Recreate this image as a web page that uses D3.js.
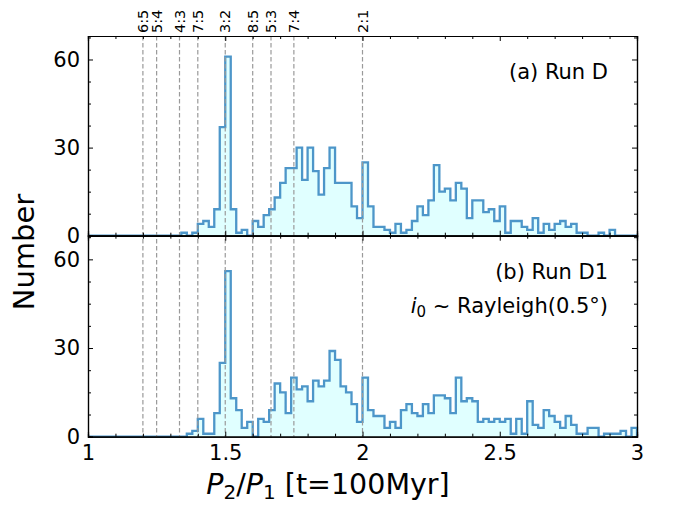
<!DOCTYPE html>
<html lang="en">
<head>
    <meta charset="UTF-8"/>
    <title>Period ratio histogram</title>
    <script src="https://d3js.org/d3.v7.min.js"></script>
    <style>
        body { margin: 0; background: #fff; }
        text { font-family: "DejaVu Sans", sans-serif; }
    </style>
</head>
<body>
<div id="chart"></div>
<script>
    // counts per bin, bins of 0.02 from 1.00 to 3.00
    var binStart = 1.0;
    var binWidth = 0.02;

    var countsRunD = [
        0, 0, 0, 0, 0, 0, 0, 0, 0, 0, 0, 0, 0, 0, 0, 0, 0, 1, 0, 1,
        4, 5, 3, 9, 37, 61, 9, 1, 2, 0, 5, 3, 7, 9, 13, 18, 23, 23, 30, 19,
        30, 22, 14, 23, 30, 18, 18, 18, 10, 6, 25, 10, 3, 3, 2, 1, 4, 1, 2, 5,
        10, 7, 12, 24, 15, 16, 12, 18, 16, 6, 12, 12, 8, 9, 5, 10, 1, 5, 5, 3,
        2, 6, 1, 4, 2, 4, 5, 3, 4, 1, 1, 0, 0, 1, 0, 2, 0, 0, 0, 0
    ];

    var countsRunD1 = [
        0, 0, 0, 0, 0, 0, 0, 0, 0, 0, 0, 0, 0, 0, 0, 0, 0, 0, 1, 2,
        6, 1, 1, 8, 25, 56, 13, 9, 3, 5, 0, 6, 5, 9, 18, 15, 8, 20, 16, 17,
        12, 19, 17, 19, 29, 26, 17, 15, 11, 5, 20, 9, 7, 7, 3, 5, 3, 9, 11, 8,
        7, 11, 8, 14, 14, 13, 8, 20, 12, 13, 12, 5, 6, 5, 6, 5, 6, 1, 6, 1,
        12, 4, 3, 9, 7, 5, 3, 7, 4, 1, 1, 3, 3, 0, 1, 1, 1, 2, 0, 3
    ];

    var resonanceNames = ["6:5", "5:4", "4:3", "7:5", "3:2", "8:5", "5:3", "7:4", "2:1"];
    var resonanceValues = [6 / 5, 5 / 4, 4 / 3, 7 / 5, 3 / 2, 8 / 5, 5 / 3, 7 / 4, 2 / 1];

    var xTickValues = [1, 1.5, 2, 2.5, 3];
    var xMinorValues = [1.1, 1.2, 1.3, 1.4, 1.6, 1.7, 1.8, 1.9, 2.1, 2.2, 2.3, 2.4, 2.6, 2.7, 2.8, 2.9];
    var yTickValues = [0, 30, 60];
    var yMinorValues = [7.5, 15, 22.5, 37.5, 45, 52.5, 67.5];

    var width = 673;
    var height = 506;
    // plot box (window.top is reserved, so use own names)
    var plotLeft = 88, plotRight = 637, plotTop = 36, plotMid = 235.7, plotBottom = 436.7;

    var svg = d3.select("#chart").append("svg").attr("width", width).attr("height", height);

    var xScale = d3.scaleLinear().domain([1, 3]).range([plotLeft, plotRight]);

    var panels = [
        {counts: countsRunD, y0: plotMid, y1: plotTop},
        {counts: countsRunD1, y0: plotBottom, y1: plotMid}
    ];

    panels.forEach(function (p) {
        var yScale = d3.scaleLinear().domain([0, 68]).range([p.y0, p.y1]);
        p.yScale = yScale;

        // points of the step outline
        var pts = p.counts.map(function (c, i) {
            return [binStart + i * binWidth, c];
        });
        pts.push([binStart + p.counts.length * binWidth, p.counts[p.counts.length - 1]]);

        var area = d3.area()
            .x(function (d) { return xScale(d[0]); })
            .y0(yScale(0))
            .y1(function (d) { return yScale(d[1]); })
            .curve(d3.curveStepAfter);

        svg.append("path").datum(pts).attr("d", area).attr("fill", "#e0ffff");

        var line = d3.line()
            .x(function (d) { return xScale(d[0]); })
            .y(function (d) { return yScale(d[1]); })
            .curve(d3.curveStepAfter);

        var outline = [[1, 0]].concat(pts).concat([[3, 0]]);
        svg.append("path").datum(outline).attr("d", line)
            .attr("fill", "none")
            .attr("stroke", "#4d96c9")
            .attr("stroke-width", 2.3)
            .attr("stroke-linejoin", "miter");
    });

    // resonance lines over both panels
    svg.selectAll(".res").data(resonanceValues).enter().append("line")
        .attr("x1", function (d) { return xScale(d); })
        .attr("x2", function (d) { return xScale(d); })
        .attr("y1", plotTop)
        .attr("y2", plotBottom)
        .attr("stroke", "#9a9a9a")
        .attr("stroke-width", 1.2)
        .attr("stroke-dasharray", "4.5,2.5");

    // resonance labels on top, rotated
    svg.selectAll(".reslabel").data(resonanceValues).enter().append("text")
        .attr("transform", function (d) { return "translate(" + xScale(d) + "," + (plotTop - 3) + ") rotate(-90)"; })
        .attr("dy", "0.36em")
        .attr("font-size", 14.5)
        .text(function (d, i) { return resonanceNames[i]; });

    // axes, ticks point inward on all sides
    panels.forEach(function (p, k) {
        var g = svg.append("g");
        var yScale = p.yScale;

        var axisB = d3.axisBottom(xScale).tickValues(xTickValues).tickSize(-5).tickPadding(8)
            .tickFormat(k === 1 ? d3.format("") : "");
        g.append("g").attr("transform", "translate(0," + p.y0 + ")").call(axisB);
        g.append("g").attr("transform", "translate(0," + p.y0 + ")")
            .call(d3.axisBottom(xScale).tickValues(xMinorValues).tickSize(-3).tickFormat(""));

        var axisT = d3.axisTop(xScale).tickValues(xTickValues).tickSize(-5).tickFormat("");
        g.append("g").attr("transform", "translate(0," + p.y1 + ")").call(axisT);
        g.append("g").attr("transform", "translate(0," + p.y1 + ")")
            .call(d3.axisTop(xScale).tickValues(xMinorValues).tickSize(-3).tickFormat(""));

        g.append("g").attr("transform", "translate(" + plotLeft + ",0)")
            .call(d3.axisLeft(yScale).tickValues(yTickValues).tickSize(-5).tickPadding(8));
        g.append("g").attr("transform", "translate(" + plotLeft + ",0)")
            .call(d3.axisLeft(yScale).tickValues(yMinorValues).tickSize(-3).tickFormat(""));

        g.append("g").attr("transform", "translate(" + plotRight + ",0)")
            .call(d3.axisRight(yScale).tickValues(yTickValues).tickSize(-5).tickFormat(""));
        g.append("g").attr("transform", "translate(" + plotRight + ",0)")
            .call(d3.axisRight(yScale).tickValues(yMinorValues).tickSize(-3).tickFormat(""));

        g.selectAll(".domain").attr("stroke", "#000").attr("stroke-width", 1.2);
        g.selectAll(".tick line").attr("stroke", "#000").attr("stroke-width", 1);
        g.selectAll(".tick text").attr("font-size", 21).attr("fill", "#000")
            .attr("font-family", "DejaVu Sans, sans-serif");
    });

    // panel annotations
    svg.append("text").attr("x", 608).attr("y", 79).attr("text-anchor", "end")
        .attr("font-size", 21).text("(a) Run D");
    svg.append("text").attr("x", 608).attr("y", 279).attr("text-anchor", "end")
        .attr("font-size", 21).text("(b) Run D1");

    var t = svg.append("text").attr("x", 608).attr("y", 313).attr("text-anchor", "end").attr("font-size", 21);
    t.append("tspan").attr("font-style", "italic").text("i");
    t.append("tspan").attr("font-size", 15).attr("dy", 4).text("0");
    t.append("tspan").attr("dy", -4).text(" ~ Rayleigh(0.5°)");

    // axis labels
    svg.append("text")
        .attr("transform", "translate(34,252) rotate(-90)")
        .attr("text-anchor", "middle")
        .attr("font-size", 29)
        .text("Number");

    var xl = svg.append("text").attr("x", 328).attr("y", 494).attr("text-anchor", "middle").attr("font-size", 28.5);
    xl.append("tspan").attr("font-style", "italic").text("P");
    xl.append("tspan").attr("font-size", 20).attr("dy", 5).text("2");
    xl.append("tspan").attr("dy", -5).text("/");
    xl.append("tspan").attr("font-style", "italic").text("P");
    xl.append("tspan").attr("font-size", 20).attr("dy", 5).text("1");
    xl.append("tspan").attr("dy", -5).text(" [t=100Myr]");
</script>
</body>
</html>
